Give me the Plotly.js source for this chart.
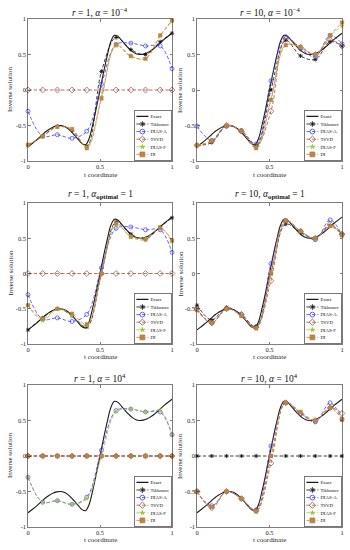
<!DOCTYPE html>
<html><head><meta charset="utf-8">
<script src="https://cdn.plot.ly/plotly-3.0.1.min.js"></script>
<style>html,body{margin:0;padding:0;background:#fff}#chart{width:350px;height:550px}</style>
</head><body><div id="chart"></div>
<script>
// ---------------- data ----------------
const seriesNames = ['Exact', 'Tikhonov', 'DIAS-A', 'TSVD', 'DIAS-F', 'DI'];
const panelTitles = [
  '<i>r</i> = 1, <i>α</i> = 10<sup>−4</sup>',
  '<i>r</i> = 10, <i>α</i> = 10<sup>−4</sup>',
  '<i>r</i> = 1, <i>α</i><sub><b>optimal</b></sub> = 1',
  '<i>r</i> = 10, <i>α</i><sub><b>optimal</b></sub> = 1',
  '<i>r</i> = 1, <i>α</i> = 10<sup>4</sup>',
  '<i>r</i> = 10, <i>α</i> = 10<sup>4</sup>'
];
const xTitle = 't coordinate';
const yTitle = 'Inverse solution';
const xTickVals = [0, 0.5, 1];
const xTickText = ['0', '0.5', '1'];
const yTickVals = [-1, -0.5, 0, 0.5, 1];
const yTickText = ['-1', '-0.5', '0', '0.5', '1'];

const tExact = [0, 0.025, 0.05, 0.075, 0.1, 0.125, 0.15, 0.175, 0.2, 0.225, 0.25, 0.275, 0.3, 0.325, 0.35, 0.375, 0.4, 0.425, 0.45, 0.475, 0.5,
  0.525, 0.55, 0.575, 0.6, 0.625, 0.65, 0.675, 0.7, 0.725, 0.75, 0.775, 0.8, 0.825, 0.85, 0.875, 0.9, 0.925, 0.95, 0.975, 1];
const exact = [-0.80, -0.76, -0.72, -0.675, -0.63, -0.585, -0.55, -0.52, -0.505, -0.50, -0.51, -0.54, -0.585, -0.64, -0.70, -0.755, -0.77, -0.68, -0.48, -0.25, 0,
  0.25, 0.48, 0.68, 0.77, 0.755, 0.70, 0.64, 0.585, 0.54, 0.51, 0.50, 0.505, 0.52, 0.55, 0.585, 0.63, 0.675, 0.72, 0.76, 0.80];

const tMarkers = [0, 0.102, 0.204, 0.306, 0.408, 0.510, 0.612, 0.714, 0.816, 0.918, 1];

// panel 1: r = 1, alpha = 1e-4
const tik1   = [-0.78, -0.65, -0.51, -0.57, -0.79, 0.26, 0.74, 0.57, 0.50, 0.68, 0.80];
const diasA1 = [-0.30, -0.65, -0.63, -0.68, -0.58, 0.08, 0.64, 0.66, 0.62, 0.62, 0.30];
const tsvd1  = [0, 0, 0, 0, 0, 0, 0, 0, 0, 0, 0];
const diasF1 = [-0.78, -0.66, -0.52, -0.56, -0.80, -0.10, 0.62, 0.47, 0.45, 0.76, 0.97];
const di1    = [-0.77, -0.65, -0.52, -0.55, -0.82, -0.12, 0.64, 0.48, 0.44, 0.77, 0.98];
// panel 2: r = 10, alpha = 1e-4
const tik2   = [-0.78, -0.74, -0.50, -0.58, -0.78, 0.00, 0.70, 0.48, 0.43, 0.68, 0.62];
const diasA2 = [-0.51, -0.71, -0.51, -0.57, -0.76, 0.13, 0.75, 0.58, 0.47, 0.77, 0.65];
const tsvd2  = [-0.78, -0.72, -0.50, -0.58, -0.79, -0.30, 0.72, 0.60, 0.50, 0.70, 0.62];
const diasF2 = [-0.78, -0.71, -0.50, -0.58, -0.80, -0.13, 0.64, 0.60, 0.50, 0.76, 0.90];
const di2    = [-0.78, -0.72, -0.50, -0.58, -0.82, -0.14, 0.63, 0.61, 0.50, 0.77, 0.95];
// panel 3: r = 1, alpha optimal = 1
const tik3   = [-0.80, -0.63, -0.50, -0.60, -0.76, 0.00, 0.73, 0.56, 0.49, 0.66, 0.79];
const diasA3 = [-0.30, -0.65, -0.63, -0.68, -0.58, 0.08, 0.64, 0.66, 0.62, 0.62, 0.30];
const tsvd3  = [0, 0, 0, 0, 0, 0, 0, 0, 0, 0, 0];
const diasF3 = [-0.45, -0.67, -0.50, -0.60, -0.74, 0.00, 0.69, 0.53, 0.50, 0.65, 0.45];
const di3    = [-0.45, -0.64, -0.50, -0.57, -0.72, 0.00, 0.71, 0.52, 0.48, 0.64, 0.47];
// panel 4: r = 10, alpha optimal = 1
const tik4   = [-0.45, -0.66, -0.48, -0.60, -0.75, 0.00, 0.70, 0.58, 0.50, 0.68, 0.55];
const diasA4 = [-0.50, -0.70, -0.50, -0.58, -0.76, 0.14, 0.75, 0.60, 0.48, 0.76, 0.55];
const tsvd4  = [-0.50, -0.70, -0.50, -0.58, -0.76, -0.10, 0.74, 0.60, 0.50, 0.70, 0.56];
const diasF4 = [-0.52, -0.70, -0.50, -0.60, -0.77, 0.01, 0.75, 0.60, 0.50, 0.67, 0.54];
const di4    = [-0.52, -0.70, -0.50, -0.60, -0.78, 0.02, 0.75, 0.60, 0.50, 0.67, 0.54];
// panel 5: r = 1, alpha = 1e4
const tik5   = [0, 0, 0, 0, 0, 0, 0, 0, 0, 0, 0];
const diasA5 = [-0.30, -0.65, -0.63, -0.68, -0.58, 0.08, 0.64, 0.66, 0.62, 0.62, 0.30];
const tsvd5  = [0, 0, 0, 0, 0, 0, 0, 0, 0, 0, 0];
const diasF5 = [-0.30, -0.65, -0.63, -0.68, -0.60, 0.00, 0.62, 0.66, 0.62, 0.64, 0.30];
const di5    = [0, 0, 0, 0, 0, 0, 0, 0, 0, 0, 0];
// panel 6: r = 10, alpha = 1e4
const tik6   = [0, 0, 0, 0, 0, 0, 0, 0, 0, 0, 0];
const diasA6 = [-0.50, -0.70, -0.50, -0.60, -0.76, 0.14, 0.75, 0.60, 0.48, 0.75, 0.52];
const tsvd6  = [-0.50, -0.73, -0.50, -0.60, -0.77, -0.10, 0.75, 0.60, 0.50, 0.68, 0.60];
const diasF6 = [-0.50, -0.72, -0.50, -0.60, -0.78, 0.00, 0.75, 0.62, 0.50, 0.68, 0.52];
const di6    = [-0.50, -0.72, -0.50, -0.60, -0.78, 0.00, 0.75, 0.62, 0.50, 0.68, 0.51];

const panels = [
  [tik1, diasA1, tsvd1, diasF1, di1],
  [tik2, diasA2, tsvd2, diasF2, di2],
  [tik3, diasA3, tsvd3, diasF3, di3],
  [tik4, diasA4, tsvd4, diasF4, di4],
  [tik5, diasA5, tsvd5, diasF5, di5],
  [tik6, diasA6, tsvd6, diasF6, di6]
];

// ---------------- styles ----------------
const FONT = 'Liberation Serif, Times New Roman, serif';
const W = 350, H = 550;
const cols = [[28 / W, 172 / W], [197 / W, 342 / W]];
const rows = [[1 - 161 / H, 1 - 19 / H], [1 - 344 / H, 1 - 203 / H], [1 - 527 / H, 1 - 385 / H]];
const DASH = '3.5px,2px';
const seriesStyle = [
  {line: '#111111', symbol: 'asterisk-open', size: 3.5, mcolor: '#111111', mlw: 0.8},
  {line: '#3b3bf0', symbol: 'circle-open', size: 4, mcolor: '#3b3bf0', mlw: 0.7},
  {line: '#a0503c', symbol: 'diamond-open', size: 4.5, mcolor: '#8c4b3c', mlw: 0.7},
  {line: '#9fc53a', symbol: 'star', size: 4, mcolor: '#9fc53a', mlw: 0},
  {line: '#e2703e', symbol: 'square', size: 3.5, mcolor: '#b08b45', mlw: 0.4, mlc: '#d0703a'}
];

const data = [];
const layout = {
  width: W, height: H, margin: {l: 0, r: 0, t: 0, b: 0},
  paper_bgcolor: '#fff', plot_bgcolor: '#fff',
  font: {family: FONT, color: '#262626'},
  showlegend: true, annotations: []
};
const legendIds = [];

panels.forEach((p, i) => {
  const r = Math.floor(i / 2), c = i % 2;
  const n = i === 0 ? '' : String(i + 1);
  const lg = 'legend' + n;
  legendIds.push({id: lg, r, c});
  const axBase = {
    showline: true, linecolor: '#262626', linewidth: 0.6, mirror: 'ticks',
    ticks: 'inside', ticklen: 2.5, tickwidth: 0.6, tickcolor: '#262626',
    showgrid: false, zeroline: false, fixedrange: true,
    tickfont: {family: FONT, size: 6.5, color: '#262626'}
  };
  layout['xaxis' + n] = Object.assign({}, axBase, {domain: cols[c], anchor: 'y' + n, range: [0, 1],
    tickmode: 'array', tickvals: xTickVals, ticktext: xTickText});
  layout['yaxis' + n] = Object.assign({}, axBase, {domain: rows[r], anchor: 'x' + n, range: [-1, 1],
    tickmode: 'array', tickvals: yTickVals, ticktext: yTickText});
  layout[lg] = {
    x: cols[c][1], xanchor: 'right', y: rows[r][0], yanchor: 'bottom',
    font: {family: FONT, size: 12, color: '#111'}, bgcolor: '#fff', bordercolor: '#555', borderwidth: 2,
    itemsizing: 'constant', itemwidth: 30, tracegroupgap: 0
  };
  data.push({type: 'scatter', x: tExact, y: exact, mode: 'lines', name: seriesNames[0],
    line: {color: '#1a1a1a', width: 1.1, shape: 'spline'}, xaxis: 'x' + n, yaxis: 'y' + n, legend: lg, cliponaxis: false});
  p.forEach((vals, k) => {
    const s = seriesStyle[k];
    data.push({type: 'scatter', x: tMarkers, y: vals, mode: 'lines+markers', name: seriesNames[k + 1],
      line: {color: s.line, width: 0.8, dash: DASH, shape: 'spline'},
      marker: {symbol: s.symbol, size: s.size, color: s.mcolor, line: {color: s.mlc || s.mcolor, width: s.mlw}},
      xaxis: 'x' + n, yaxis: 'y' + n, legend: lg, cliponaxis: false});
  });
  const cx = (cols[c][0] + cols[c][1]) / 2;
  const cy = (rows[r][0] + rows[r][1]) / 2;
  const titleY = [1 - 12 / H, 1 - 195 / H, 1 - 378 / H][r];
  const xtY = [1 - 175 / H, 1 - 357 / H, 1 - 540 / H][r];
  const ytX = [10 / W, 180 / W][c];
  layout.annotations.push(
    {xref: 'paper', yref: 'paper', x: cx, y: titleY, text: panelTitles[i], showarrow: false,
      xanchor: 'center', yanchor: 'middle', font: {family: FONT, size: 9.5, color: '#111'}},
    {xref: 'paper', yref: 'paper', x: cx, y: xtY, text: xTitle, showarrow: false,
      xanchor: 'center', yanchor: 'middle', font: {family: FONT, size: 7, color: '#262626'}},
    {xref: 'paper', yref: 'paper', x: ytX, y: cy, text: yTitle, showarrow: false, textangle: -90,
      xanchor: 'center', yanchor: 'middle', font: {family: FONT, size: 7, color: '#262626'}}
  );
});

const gd = document.getElementById('chart');
Plotly.newPlot(gd, data, layout, {staticPlot: true, displayModeBar: false}).then(() => {
  const S = 0.4;
  legendIds.forEach(({id, r, c}) => {
    const g = gd.querySelector('g.' + id);
    if (!g) return;
    const bg = g.querySelector('rect.bg');
    const w = +bg.getAttribute('width') + 2, h = +bg.getAttribute('height') + 2;
    const X = cols[c][1] * W, Y = (1 - rows[r][0]) * H;
    g.setAttribute('transform', 'translate(' + (X - w * S) + ',' + (Y - h * S) + ') scale(' + S + ')');
    g.querySelectorAll('g.traces').forEach(tr => {
      const d = tr.__data__;
      const trace = d && d[0] && d[0].trace;
      if (!trace) return;
      tr.querySelectorAll('.legendlines path').forEach(pth => {
        pth.style.strokeWidth = (trace.line.width / S) + 'px';
        if (trace.line.dash && trace.line.dash !== 'solid') {
          const parts = trace.line.dash.split(',').map(v => parseFloat(v) / S + 'px');
          pth.style.strokeDasharray = parts.join(',');
        }
      });
    });
  });
});
</script>
</body></html>
